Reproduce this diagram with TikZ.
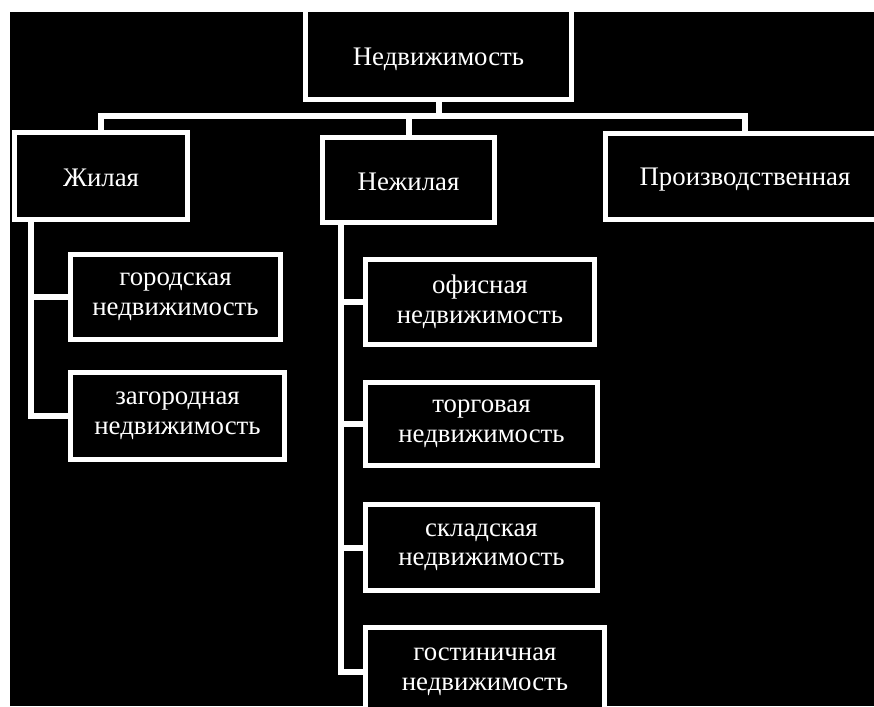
\documentclass[tikz,border=0pt]{standalone}
\usepackage{fontspec}
\setmainfont{Liberation Serif}
\newcommand{\lowertext}[2]{\raisebox{-#1}[\height][\depth]{#2}}
\begin{document}
\begin{tikzpicture}[x=1pt,y=-1pt,
  box/.style={draw=white, line width=5pt, fill=black, text=white, align=center,
    inner sep=0pt, font=\fontsize{26.8}{29.5}\selectfont, line join=miter},
  conn/.style={draw=white, line width=6pt, line join=miter}]
\useasboundingbox (0,0) rectangle (874,706);
\clip (0,0) rectangle (874,706);
\fill[white] (0,0) rectangle (874,706);
\fill[black] (10,12) rectangle (874,706);
% nodes
\node[box, minimum width=266pt, minimum height=90pt] (top) at (438.5,55) {\lowertext{4pt}{Недвижимость}};
\node[box, minimum width=173pt, minimum height=87pt] (zhil) at (101,176) {\lowertext{2pt}{Жилая}};
\node[box, minimum width=172pt, minimum height=85pt] (nezhil) at (408.5,180) {\lowertext{2pt}{Нежилая}};
\node[box, minimum width=279pt, minimum height=86pt] (proizv) at (745,176.5) {\lowertext{3pt}{Производственная}};
\node[box, minimum width=210pt, minimum height=85pt] (gor) at (175.5,297) {городская\\недвижимость};
\node[box, minimum width=214pt, minimum height=87pt] (zag) at (177.5,416) {загородная\\недвижимость};
\node[box, minimum width=229pt, minimum height=85pt] (ofis) at (480,302) {офисная\\недвижимость};
\node[box, minimum width=232pt, minimum height=83pt] (torg) at (481.5,424) {торговая\\недвижимость};
\node[box, minimum width=232pt, minimum height=86pt] (sklad) at (481.5,547.5) {складская\\недвижимость};
\node[box, minimum width=239pt, minimum height=89pt] (gost) at (485,672) {гостиничная\\недвижимость};
% connector coordinates
\coordinate (bar) at (0,115.5);
\coordinate (zspine) at (31,0);
\coordinate (nspine) at (341,0);
% top level
\draw[conn] (top.south) -- (top.south |- bar);
\draw[conn] (zhil.north) -- (zhil.north |- bar) -- (proizv.north |- bar) -- (proizv.north);
\draw[conn] (nezhil.north) -- (nezhil.north |- bar);
% Жилая branch
\draw[conn] (zspine |- zhil.south) |- (gor.west);
\draw[conn] (zspine |- zhil.south) |- (zag.west);
% Нежилая branch
\draw[conn] (nspine |- nezhil.south) |- (ofis.west);
\draw[conn] (nspine |- nezhil.south) |- (torg.west);
\draw[conn] (nspine |- nezhil.south) |- (sklad.west);
\draw[conn] (nspine |- nezhil.south) |- (gost.west);
\end{tikzpicture}
\end{document}
